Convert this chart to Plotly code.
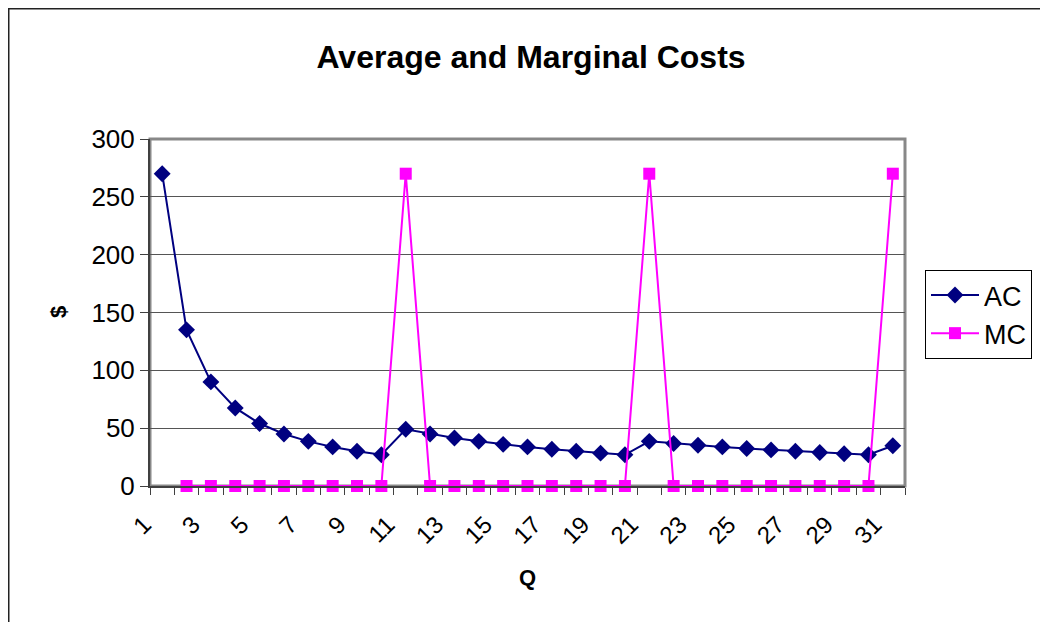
import plotly.graph_objects as go

q = list(range(1, 32))
ac = [270, 135, 90, 67.5, 54, 45, 38.6, 33.8, 30, 27,
      49.1, 45, 41.5, 38.6, 36, 33.8, 31.8, 30, 28.4, 27,
      38.6, 36.8, 35.2, 33.8, 32.4, 31.2, 30, 28.9, 27.9, 27, 34.8]
mc = [None, 0, 0, 0, 0, 0, 0, 0, 0, 0,
      270, 0, 0, 0, 0, 0, 0, 0, 0, 0,
      270, 0, 0, 0, 0, 0, 0, 0, 0, 0, 270]
x_ticks = q[::2]
x_ticktext = [str(v) for v in x_ticks]
y_ticks = [0, 50, 100, 150, 200, 250, 300]

FONT = "Liberation Sans, Arial, sans-serif"

fig = go.Figure()
fig.add_trace(go.Scatter(x=q, y=ac, name="AC", mode="lines+markers", legendgroup="ac",
                         cliponaxis=False,
                         line=dict(color="#000080", width=2),
                         marker=dict(symbol="diamond", size=13, color="#000080")))
fig.add_trace(go.Scatter(x=q, y=mc, name="MC", mode="lines+markers", legendgroup="mc",
                         cliponaxis=False,
                         line=dict(color="#FF00FF", width=2),
                         marker=dict(symbol="square", size=12, color="#FF00FF")))

# figure is placed 8px into the page (body margin), so work in figure pixels
W, H = 1040, 614
L, R, T, B = 142, 897, 131, 478
PW, PH = R - L, B - T

def px(x):
    return (x - L) / PW

def py(y):
    return (B - y) / PH

fig.update_layout(
    width=W, height=H,
    margin=dict(l=L, r=W - R, t=T, b=H - B, pad=0),
    paper_bgcolor="white", plot_bgcolor="white",
    font=dict(family=FONT, color="black"),
    title=dict(text="<b>Average and Marginal Costs</b>", font=dict(size=32, family=FONT),
               x=px(523), xref="paper", xanchor="center",
               y=1 - 49 / H, yref="container", yanchor="middle"),
    showlegend=True,
    legend=dict(x=px(917), y=py(262), xanchor="left", yanchor="top",
                bordercolor="black", borderwidth=1, bgcolor="white",
                font=dict(size=27, family=FONT), traceorder="grouped",
                tracegroupgap=0, itemwidth=48),
    xaxis=dict(range=[0.5, 31.5], tickmode="array", tickvals=x_ticks, ticktext=x_ticktext,
               tickangle=-45, tickfont=dict(size=24, family=FONT), ticks="",
               ticklabelstandoff=13, ticklabelshift=-18,
               showgrid=False, zeroline=False, showline=True, linecolor="#404040", linewidth=2,
               minor=dict(tickmode="linear", tick0=0.5, dtick=1, ticks="outside",
                          ticklen=7, tickcolor="#404040", tickwidth=1, showgrid=False),
               fixedrange=True),
    yaxis=dict(range=[0, 300], tickmode="array", tickvals=y_ticks,
               tickfont=dict(size=26, family=FONT), ticks="outside", ticklen=8,
               tickcolor="#404040", showgrid=True, gridcolor="#555555", gridwidth=1,
               zeroline=False, showline=True, linecolor="#404040", linewidth=2,
               fixedrange=True),
    shapes=[
        dict(type="rect", xref="paper", yref="paper", x0=0, x1=1, y0=0, y1=1,
             line=dict(color="#888888", width=3), layer="below"),
        dict(type="rect", xref="paper", yref="paper",
             x0=px(0), x1=px(1100), y0=py(700), y1=py(0),
             line=dict(color="#222222", width=3), layer="below"),
    ],
    annotations=[
        dict(text="<b>Q</b>", xref="paper", yref="paper", x=px(519), y=py(569),
             showarrow=False, font=dict(size=22, family=FONT),
             xanchor="center", yanchor="middle"),
        dict(text="<b>$</b>", xref="paper", yref="paper", x=px(50), y=py(304),
             showarrow=False, font=dict(size=22, family=FONT),
             textangle=-90, xanchor="center", yanchor="middle"),
    ],
)

fig.write_html("out.html")
